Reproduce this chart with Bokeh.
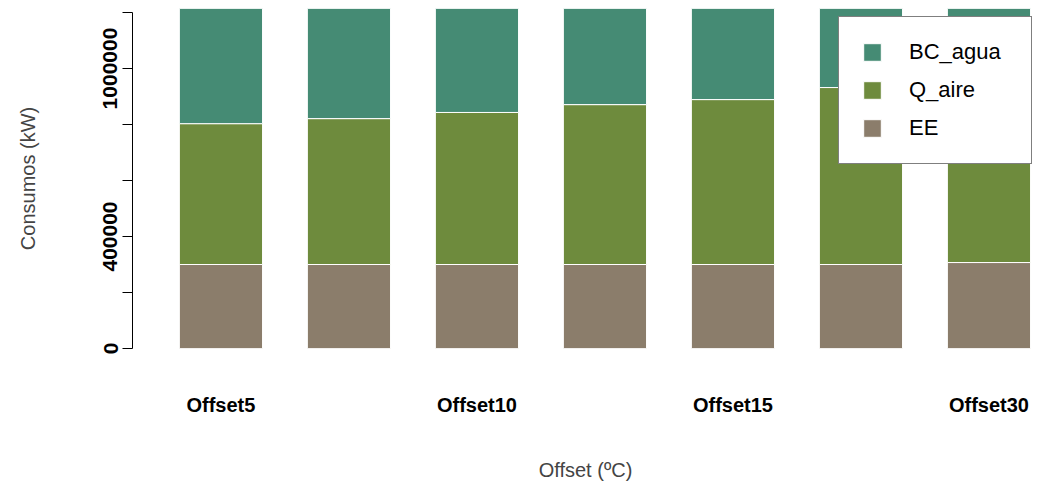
from bokeh.embed import file_html
from bokeh.models import ColumnDataSource, Range1d, Legend, LegendItem, FixedTicker
from bokeh.plotting import figure
from bokeh.resources import INLINE

categories = ["Offset5", "Offset7", "Offset10", "Offset12", "Offset15", "Offset20", "Offset30"]
shown_labels = ["Offset5", "", "Offset10", "", "Offset15", "", "Offset30"]
ee = [300000, 300000, 300000, 300000, 300000, 300000, 307000]
q_aire = [503000, 521000, 543000, 571000, 589000, 632000, 660000]
bc_agua = [450000, 430000, 410000, 380000, 360000, 320000, 300000]

COLORS = {"BC_agua": "#458B74", "Q_aire": "#6E8B3D", "EE": "#8B7D6B"}

x = list(range(1, len(categories) + 1))
ee_top = ee
q_top = [a + b for a, b in zip(ee, q_aire)]
bc_top = [a + b for a, b in zip(q_top, bc_agua)]
source = ColumnDataSource(dict(x=x, zero=[0] * len(x), ee_top=ee_top,
                               q_top=q_top, bc_top=bc_top))

p = figure(width=1040, height=490, output_backend="svg", toolbar_location=None,
           x_range=Range1d(0.309, 7.387), y_range=Range1d(0, 1214286),
           min_border_left=132, min_border_right=2, min_border_top=8,
           min_border_bottom=142)
p.outline_line_color = None
p.grid.visible = False
p.background_fill_color = "white"

r_ee = p.vbar(x="x", bottom="zero", top="ee_top", width=0.65, source=source,
              fill_color=COLORS["EE"], line_color="white", line_width=1)
r_q = p.vbar(x="x", bottom="ee_top", top="q_top", width=0.65, source=source,
             fill_color=COLORS["Q_aire"], line_color="white", line_width=1)
r_bc = p.vbar(x="x", bottom="q_top", top="bc_top", width=0.65, source=source,
              fill_color=COLORS["BC_agua"], line_color="white", line_width=1)

# y axis, R style: rotated bold labels, only some shown
yticks = [0, 200000, 400000, 600000, 800000, 1000000, 1200000]
p.yaxis.ticker = FixedTicker(ticks=yticks)
p.yaxis.bounds = (0, 1200000)
p.yaxis.major_label_overrides = {t: (str(t) if t in (0, 400000, 1000000) else "") for t in yticks}
p.yaxis.major_label_orientation = "vertical"
p.yaxis.major_label_text_font_style = "bold"
p.yaxis.major_label_text_font_size = "21px"
p.yaxis.major_label_text_color = "black"
p.yaxis.major_label_text_font = "Liberation Sans"
p.yaxis.axis_line_color = "black"
p.yaxis.major_tick_line_color = "black"
p.yaxis.major_tick_out = 10
p.yaxis.major_tick_in = 0
p.yaxis.minor_tick_line_color = None
p.yaxis.axis_label = "Consumos (kW)"
p.yaxis.axis_label_text_font_style = "normal"
p.yaxis.axis_label_text_font_size = "20px"
p.yaxis.axis_label_text_font = "Liberation Sans"
p.yaxis.axis_label_text_color = "#444444"
p.yaxis.axis_label_standoff = 62

p.xaxis.ticker = FixedTicker(ticks=x)
p.xaxis.major_label_overrides = {i: lab for i, lab in zip(x, shown_labels)}
p.xaxis.axis_line_color = None
p.xaxis.major_tick_line_color = None
p.xaxis.minor_tick_line_color = None
p.xaxis.major_label_standoff = 39
p.xaxis.major_label_text_font_style = "bold"
p.xaxis.major_label_text_font_size = "20px"
p.xaxis.major_label_text_font = "Liberation Sans"
p.xaxis.major_label_text_color = "black"
p.xaxis.axis_label = "Offset (ºC)"
p.xaxis.axis_label_text_font_style = "normal"
p.xaxis.axis_label_text_font_size = "20px"
p.xaxis.axis_label_text_font = "Liberation Sans"
p.xaxis.axis_label_text_color = "#444444"
p.xaxis.axis_label_standoff = 40

legend = Legend(items=[LegendItem(label="BC_agua", renderers=[r_bc]),
                       LegendItem(label="Q_aire", renderers=[r_q]),
                       LegendItem(label="EE", renderers=[r_ee])],
                location=(706, 184))
legend.border_line_color = "black"
legend.border_line_width = 1
legend.background_fill_alpha = 1
legend.label_text_font_size = "22px"
legend.label_text_font = "Liberation Sans"
legend.label_text_color = "black"
legend.glyph_width = 22
legend.glyph_height = 22
legend.spacing = 12
legend.padding = 22
legend.margin = 0
legend.label_standoff = 26
legend.label_height = 22
legend.label_width = 100
p.add_layout(legend)

open("out.html", "w").write(file_html(p, INLINE))
